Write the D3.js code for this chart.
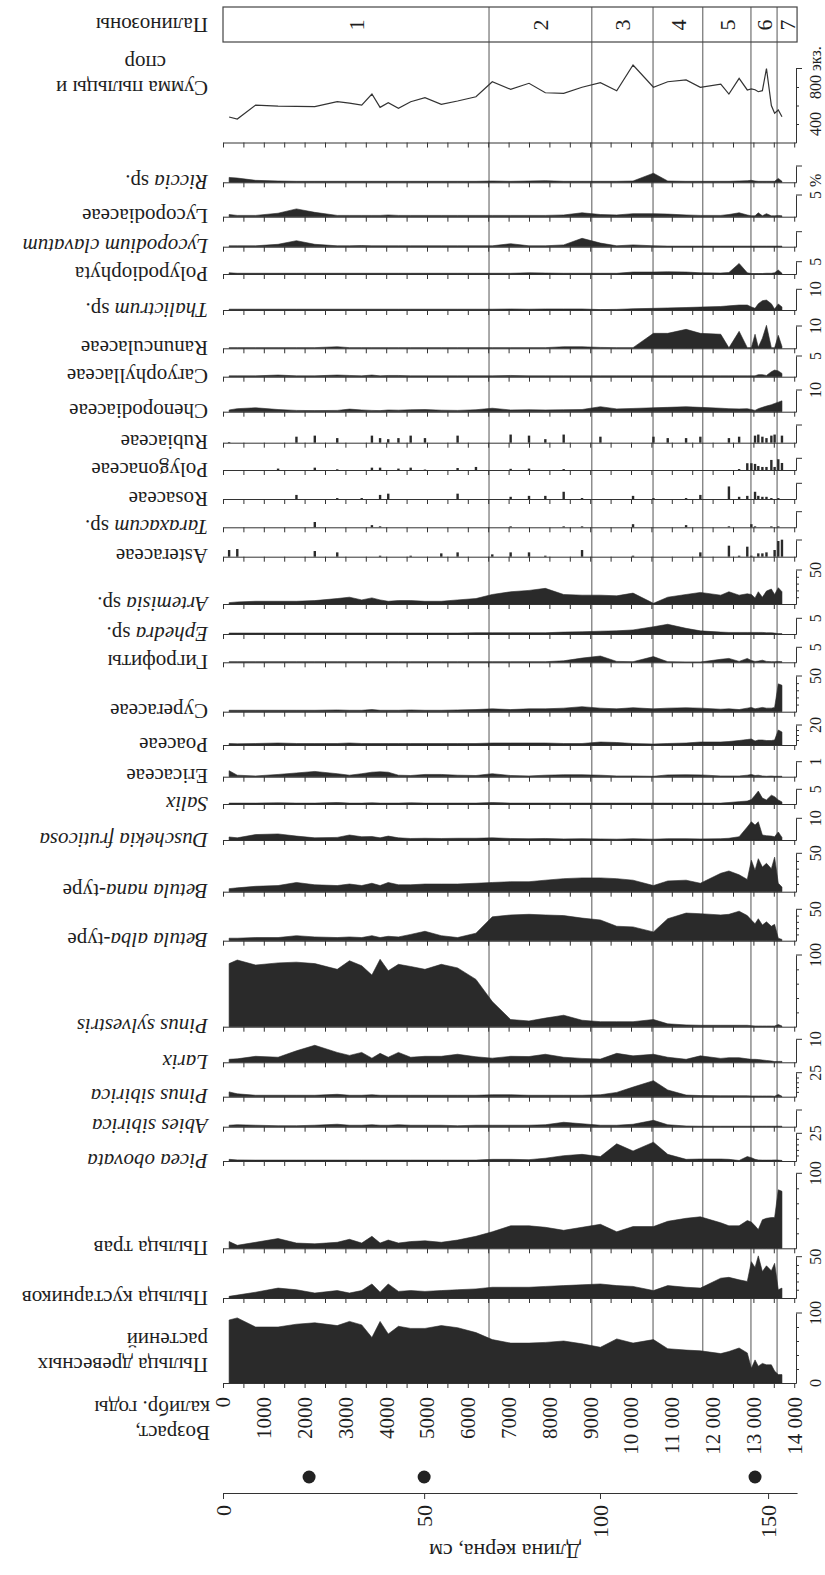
<!DOCTYPE html>
<html>
<head>
<meta charset="utf-8">
<script src="https://cdn.jsdelivr.net/npm/d3@7"></script>
<style>
  body{margin:0;background:#fff;}
  text{font-family:"Liberation Serif","Times New Roman",serif;fill:#1e1e1e;}
</style>
</head>
<body>
<svg id="diagram" width="825" height="1575"></svg>
<script>
// возраст образцов, калибр. лет
var sampleAges=[150,350,800,1350,1800,2250,2800,3100,3400,3650,3850,4050,4300,4600,4950,5350,5750,6200,6600,7050,
  7500,7900,8350,8800,9250,9650,10050,10550,10900,11350,11700,12200,12400,12650,12850,12950,13040,13120,13220,13320,
  13440,13520,13610,13700];

var sumPollen=[476,454,605,594,590,587,641,625,605,724,580,630,570,641,684,613,649,695,857,775,
  840,738,732,797,847,760,1038,797,857,876,797,832,724,894,768,780,770,749,760,1000,600,516,551,479];
var riccia=[1.5,1.3,0.6,0.4,0.3,0.3,0.3,0.3,0.3,0.3,0.3,0.3,0.3,0.3,0.3,0.3,0.3,0.3,0.4,0.3,
  0.4,0.5,0.3,0.3,0.3,0.3,0.4,2.8,0.4,0.3,0.3,0.3,0.3,0.4,0.5,0.6,0.4,0.3,0.3,0.3,0.3,0.3,1.2,0.3];
var lycopodiaceae=[0.5,0.3,0.3,0.8,1.8,1.0,0.3,0.3,0.3,0.3,0.3,0.4,0.3,0.3,0.3,0.3,0.3,0.3,0.3,0.3,
  0.3,0.3,0.4,0.9,0.5,0.4,0.7,0.7,0.6,0.4,0.3,0.3,0.5,0.9,0.4,0.2,0.2,0.9,0.2,0.7,0.2,0.2,0.3,0.2];
var lycopodium=[0.3,0.3,0.3,0.8,2.0,0.8,0.3,0.3,0.4,0.3,0.3,0.3,0.3,0.3,0.3,0.3,0.3,0.3,0.3,1.0,
  0.3,0.3,0.6,2.8,1.2,0.3,0.6,0.3,0.2,0.2,0.2,0.2,0.2,0.2,0.2,0.2,0.2,0.2,0.2,0.2,0.2,0.2,0.2,0.2];
var polypodiophyta=[0.5,0.3,0.3,0.3,0.3,0.3,0.3,0.3,0.3,0.3,0.3,0.3,0.3,0.3,0.3,0.3,0.3,0.3,0.3,0.3,
  0.5,0.4,0.3,0.3,0.3,0.3,0.8,0.8,0.9,0.8,0.5,0.4,0.6,4.3,0.5,0.2,0.2,0.2,0.2,0.3,0.3,0.5,1.6,0.3];
var thalictrum=[0.4,0.4,0.4,0.4,0.4,0.4,0.4,0.4,0.4,0.4,0.4,0.4,0.4,0.4,0.4,0.4,0.4,0.4,0.4,0.5,
  0.4,0.5,0.5,0.5,0.2,0.3,0.6,0.8,1.0,1.2,1.4,1.7,2.0,2.4,2.4,1.5,0.8,3.0,4.5,4.8,3.0,0.5,2.9,1.5];
var ranunculaceae=[0.3,0.3,0.3,0.3,0.3,0.3,0.7,0.3,0.3,0.3,0.3,0.3,0.3,0.3,0.3,0.3,0.3,0.3,0.3,0.3,
  0.3,0.3,0.7,0.7,0.4,0.3,0.3,6.7,6.7,8.5,6.7,6.3,0.2,7.6,0.3,0.3,6.3,0.5,4.5,10.3,0.3,0.2,5.8,0.8];
var caryophyllaceae=[0.2,0.2,0.2,0.4,0.2,0.2,0.4,0.3,0.2,0.4,0.2,0.3,0.3,0.2,0.2,0.2,0.2,0.2,0.2,0.3,
  0.2,0.2,0.2,0.2,0.2,0.2,0.2,0.2,0.2,0.2,0.2,0.2,0.2,0.2,0.2,0.2,0.2,0.5,0.5,0.3,1.2,1.6,1.4,0.8];
var chenopodiaceae=[0.8,1.4,1.8,1.0,0.6,0.5,0.6,1.2,0.8,0.6,0.5,0.8,0.7,0.9,1.0,0.7,0.6,0.9,1.6,0.8,
  0.9,0.8,0.9,1.0,2.3,1.3,1.5,1.8,2.0,2.3,2.0,1.6,1.4,1.3,1.4,1.0,0.6,1.4,2.0,2.6,3.2,3.8,4.4,5.0];
var rubiaceae=[0.2,0,0,0,1.7,2,1.3,0,0,2,1.3,1,1.3,2,1.3,0,2,0,0,2.3,
  2,1,2.3,0,1.7,0,0,1.7,1.3,1.3,1.7,0,1.3,1.7,0,0,2,2.3,1.7,1.3,2,2.3,0,2];
var polygonaceae=[0,0,0,0.6,0,1,0.3,0,0,1,1,0,0.6,1,0.2,0,0.85,1.3,0,0.5,
  0.6,0,0.4,0,0,0,0,0,0,0,0,0,0,0.4,2.9,2.9,2.6,1.7,1.3,1.3,4.3,1.3,4.6,3];
var rosaceae=[0,0,0,0,1.3,0,0.3,0,0.3,0,1.3,1.7,0,0,0,0,1.7,0,0,0.7,
  1,1,2.3,0.3,0,0,1,0.3,0,0.3,1.3,0,4,0.7,1,0,2.3,1,0.7,0.7,0.3,0,0.3,0];
var taraxacum=[0,0,0,0,0,1.7,0,0,0,0.7,0.3,0,0,0,0,0,0,0,0,0.3,
  0,0,0.3,0.3,0,0,1,0,0,0.7,0,0,0.3,0,0,1,0.3,0,0,0,0.3,0,0.3,0];
var asteraceae=[2,2.3,0,0,0,1.7,1.3,0,0,0,0.3,0,0,0.3,0,1,1.3,0,0.7,1.3,
  1.3,0.3,0,2,0,0,0.3,0,0,0,1.3,0,3.3,0.3,3.0,0.3,0,1,1,1.3,0,2,4.7,5.1];
var artemisia=[2,3,4,4,4,5,8,10,6,9,6,4,5,5,4,4,6,8,14,18,
  20,23,14,13,13,12,16,1,10,14,17,13,18,13,15,14,9,18,10,19,22,14,24,18];
var ephedra=[0.3,0.3,0.3,0.3,0.3,0.3,0.3,0.3,0.3,0.3,0.3,0.3,0.3,0.3,0.3,0.3,0.3,0.4,0.4,0.4,
  0.4,0.4,0.6,0.7,0.9,1.0,1.3,2.3,3.1,1.8,1.0,0.6,0.5,0.5,0.5,0.5,0.5,0.5,0.5,0.4,0.4,0.3,0.1,0.1];
var gigrofity=[0.2,0.2,0.2,0.2,0.2,0.2,0.2,0.2,0.2,0.2,0.2,0.2,0.2,0.2,0.2,0.2,0.2,0.2,0.2,0.2,
  0.2,0.2,0.5,1.4,2.1,0.3,0.2,1.9,0.2,0.1,0.1,1.0,1.3,0.3,1.3,0.6,0.3,0.4,0.7,0.3,0.2,0.2,0.3,0.2];
var cyperaceae=[2,2,2,2,2,2,2.5,2,2,3,2,2,2,2.5,2,2,2.5,3,4,3,
  4,4,5,7,5,4,5.6,4,5,5.5,5,3.5,4,3,5,6,4,5,6,5,5,6,39,37];
var poaceae=[1.5,1.2,1.5,2,1.5,1.5,1.5,2,1.5,1.5,1.5,1.5,1.5,1.5,1.5,1.5,1.5,1.5,2,2,
  2,2,1.5,1.5,3,2.5,1.5,1,1.5,2,3,3,3.5,4.5,5.5,6,4,5,5,4.5,4.5,5,15,13];
var ericaceae=[0.4,0.1,0.05,0.15,0.25,0.35,0.2,0.1,0.2,0.3,0.33,0.3,0.1,0.08,0.15,0.15,0.1,0.08,0.2,0.08,
  0.05,0.1,0.13,0.13,0.1,0.05,0.05,0.03,0.12,0.13,0.12,0.05,0.05,0.05,0.1,0.15,0.08,0.1,0.05,0.03,0.05,0.03,0.03,0.03];
var salix=[0.3,0.3,0.3,0.4,0.3,0.3,0.5,0.3,0.3,0.4,0.3,0.3,0.3,0.4,0.3,0.3,0.3,0.3,0.5,0.3,
  0.3,0.3,0.3,0.3,0.3,0.3,0.3,0.3,0.3,0.3,0.3,0.3,0.5,0.8,1.0,1.5,3.0,4.4,2.0,1.4,3.0,2.5,1.4,0.7];
var duschekia=[1.4,1.0,2.5,2.8,1.8,1.0,1.2,2.3,1.5,1.6,1.0,1.8,1.0,0.7,0.8,0.7,0.8,0.8,1.0,0.7,
  0.6,0.7,0.5,0.6,0.5,0.4,0.6,0.4,0.6,0.6,0.5,0.6,0.8,1.5,6.0,8.4,6.9,8.4,2.3,2.0,1.8,1.5,3.7,1.2];
var betulaNana=[4,5,7,8,12,9,8,10,8,11,8,12,9,9,10,10,10,11,12,13,
  13,15,17,18,18,17,15,8,14,15,11,24,27,22,16,41,28,43,32,37,30,45,11,6];
var betulaAlba=[4,4,5,5,8,6,5,6,5,8,5,7,6,10,15,8,5,12,38,41,
  42,41,40,36,33,23,22,14,35,44,43,41,42,47,40,33,27,35,25,30,23,26,4,2];
var pinusSylvestris=[88,93,86,89,90,88,80,92,85,72,94,78,87,84,80,87,82,66,35,10,
  8,12,16,9,7,7,7,10,4,2.5,2,2,2,2,2,1.5,1,1,1,1,1,1,3,1];
var larix=[1.3,1.5,2.6,2.2,5.0,7.4,4.3,3.0,4.3,1.8,3.9,2.2,4.3,2.2,2.6,2.6,3.5,2.4,1.8,2.6,
  2.5,3.5,2.2,1.7,1.4,3.9,2.8,3.5,2.2,1.3,2.8,1.7,2.0,2.0,1.5,1.3,1.3,1.2,1.0,0.8,0.6,0.3,0.4,0.4];
var pinusSibirica=[5,3,1.5,1.5,1.5,1.5,2.5,1.5,1.5,2,1.5,1.5,1.5,1.5,1.5,1.5,1.5,1.5,2,2,
  1.5,1.5,1.5,1.5,2,4.5,10,16.7,7,1.7,1.2,1,1,1,1,0.8,0.8,0.8,0.8,0.8,0.8,0.5,2.4,0.5];
var abies=[1.5,2,1.5,1,1,1.5,2.5,1.5,1.5,2,1.5,1.5,2,1.5,1.5,1.5,1,1.5,1.5,1.5,
  1.5,2,4.5,3,1.5,1.5,2.5,6.5,2,0.7,0.5,0.5,0.5,0.5,0.5,0.5,0.5,0.5,0.5,0.5,0.5,0.5,0.5,0.5];
var picea=[1.5,1,0.8,0.8,0.8,0.8,0.8,0.8,0.8,0.8,0.8,0.8,0.8,0.8,0.8,0.8,0.8,0.8,1.5,1.5,
  1.2,2.5,4.8,6,4,15.5,9,17,6,1.5,1.8,1.8,1.5,0.5,4,3,1.5,1,0.8,0.8,0.8,1,0.8,0.5];
var herbs=[9,4,8,13,7,6,8,12,7,16,7,11,7,9,10,8,11,16,22,30,
  30,28,24,28,32,22,29,29,36,40,42,34,30,30,37,35,30,25,38,40,41,41,78,76];
var shrubs=[2,3.5,7,12,10,6,9,6,9,17,7,17,8,9,8,9,10,11,13,13,
  13,14,15,16,17,15,14,9,15,13,12,24,25,22,20,44,37,51,32,39,33,42,10,12];
var trees=[90,93,80,80,84,86,82,88,83,65,88,70,81,78,78,82,79,72,62,57,
  57,58,60,56,51,63,57,62,49,47,46,42,45,50,43,21,33,24,28,26,26,17,12,12];

// названия строк (* - курсив, | - перенос)
var taxa=['Сумма пыльцы и|спор','*Riccia* sp.','Lycopodiaceae','*Lycopodium clavatum*','Polypodiophyta',
  '*Thalictrum* sp.','Ranunculaceae','Caryophyllaceae','Chenopodiaceae','Rubiaceae','Polygonaceae','Rosaceae',
  '*Taraxacum* sp.','Asteraceae','*Artemisia* sp.','*Ephedra* sp.','Гигрофиты','Cyperaceae','Poaceae','Ericaceae',
  '*Salix*','*Duschekia fruticosa*','*Betula nana*-type','*Betula alba*-type','*Pinus sylvestris*','*Larix*',
  '*Pinus sibirica*','*Abies sibirica*','*Picea obovata*','Пыльца трав','Пыльца кустарников','Пыльца древесных|растений'];
var series=[sumPollen,riccia,lycopodiaceae,lycopodium,polypodiophyta,thalictrum,ranunculaceae,caryophyllaceae,
  chenopodiaceae,rubiaceae,polygonaceae,rosaceae,taraxacum,asteraceae,artemisia,ephedra,gigrofity,cyperaceae,
  poaceae,ericaceae,salix,duschekia,betulaNana,betulaAlba,pinusSylvestris,larix,pinusSibirica,abies,picea,
  herbs,shrubs,trees];
var kinds=['line','area','area','area','area','area','area','area','area','bar','bar','bar','bar','bar',
  'area','area','area','area','area','area','area','area','area','area','area','area','area','area','area',
  'area','area','area'];
var scaleMin=[200,0,0,0,0,0,0,0,0,0,0,0,0,0,0,0,0,0,0,0,0,0,0,0,0,0,0,0,0,0,0,0];
var scaleMax=[1000,5,5,5,5,10,10,5,10,5,5,5,5,5,50,5,5,50,20,1,5,10,50,50,100,10,25,17,25,100,50,100];
var scaleStep=[200,0,0,0,0,0,0,0,0,0,0,0,0,0,10,0,0,10,5,0,0,0,10,10,20,0,5,0,5,20,10,20];
var scaleText=['','','5 %','','5','10','10','5','10','','','','','','50','5','5','50','20','1','5','10',
  '50','50','100','10','25','','25','100','50','100'];

var zoneBounds=[6520,9040,10540,11760,12940,13580];
var zoneNames=['1','2','3','4','5','6','7'];
var ageTicks=d3.range(0,14001,1000);
var datingAges=[2110,4930,13040];
var depthModel=[0,50,100,150,158];
var ageModel=[0,4930,9240,13360,14070];
var depthTicks=[0,50,100,150];

// положение строк на листе
var rowBase=[142.5,182.3,216.7,246.7,274,310,348.3,376.7,411.7,442.7,470,499,527.3,556.7,604,634,662.3,711.7,
  745,776.7,804,840,891.7,940.7,1026.7,1062.3,1096.7,1126.7,1161,1248.3,1298,1383];
var rowTop=[68.5,166,195,231.7,261.7,289.3,326,356,390,425,458.3,483.3,511.7,540,570,618.3,647.3,676,
  725,761.7,789.3,818.3,853.3,909.3,955,1039.3,1072.7,1110,1133.3,1173.3,1256.7,1313];

window.onload=function(){
    var svg=d3.select('#diagram');
    var ink='#2a2a2a';
    var gx=796;
    var x=d3.scaleLinear().domain([0,14044]).range([223,gx]);
    var xEnd=x(14070);

    // label with rotation by 180
    function upsideLabel(txt,px,py,size,anchor){
        var t=svg.append('text')
            .attr('transform','translate('+px+','+py+') rotate(180)')
            .attr('font-size',size)
            .attr('text-anchor',anchor||'start');
        txt.split('|').forEach(function(line,li){
            var first=true;
            line.split('*').forEach(function(seg,si){
                if(!seg) return;
                var ts=t.append('tspan').text(seg);
                if(si%2==1) ts.attr('font-style','italic');
                if(first){
                    ts.attr('x',(li>0 && txt.indexOf('спор')>0)?42:0)
                      .attr('dy',li==0?'0.35em':25);
                    first=false;
                }
            });
        });
        return t;
    }
    function upLabel(txt,px,py,size,anchor){
        return svg.append('text')
            .attr('transform','translate('+px+','+py+') rotate(-90)')
            .attr('font-size',size)
            .attr('text-anchor',anchor||'middle')
            .attr('dy','0.35em')
            .text(txt);
    }

    // палинозоны
    svg.append('g').selectAll('line')
        .data(zoneBounds)
        .enter()
        .append('line')
        .attr('x1',function(d){return x(d);})
        .attr('x2',function(d){return x(d);})
        .attr('y1',7)
        .attr('y2',rowBase[rowBase.length-1])
        .attr('stroke','#555')
        .attr('stroke-width',1);

    svg.append('rect')
        .attr('x',x(0)).attr('y',7)
        .attr('width',xEnd-x(0)).attr('height',35)
        .attr('fill','none').attr('stroke','#444').attr('stroke-width',1.2);

    var edges=[0].concat(zoneBounds).concat([14070]);
    zoneNames.forEach(function(z,i){
        upLabel(z,(x(edges[i])+x(edges[i+1]))/2,25,22);
    });
    upsideLabel('Палинозоны',208,25,21);

    // строки диаграммы
    series.forEach(function(vals,i){
        var base=rowBase[i], top=rowTop[i];
        var y=d3.scaleLinear().domain([scaleMin[i],scaleMax[i]]).range([base,top]);

        if(kinds[i]=='area'){
            var area=d3.area()
                .x(function(d,j){return x(sampleAges[j]);})
                .y0(base)
                .y1(function(d){return y(d);});
            svg.append('path')
                .attr('d',area(vals))
                .attr('fill',ink)
                .attr('stroke',ink)
                .attr('stroke-width',0.6);
        }else if(kinds[i]=='bar'){
            svg.append('g').selectAll('rect')
                .data(vals)
                .enter()
                .append('rect')
                .attr('x',function(d,j){return x(sampleAges[j])-1.2;})
                .attr('width',2.4)
                .attr('y',function(d){return y(d);})
                .attr('height',function(d){return base-y(d);})
                .attr('fill',ink);
        }else{
            var line=d3.line()
                .x(function(d,j){return x(sampleAges[j]);})
                .y(function(d){return y(d);});
            svg.append('path')
                .attr('d',line(vals))
                .attr('fill','none')
                .attr('stroke','#333')
                .attr('stroke-width',1.2);
        }

        // базовая линия с засечками каждые 500 лет
        svg.append('g')
            .attr('transform','translate(0,'+base+')')
            .attr('color','#333')
            .call(d3.axisBottom(x).tickValues(d3.range(0,14001,500)).tickSize(5).tickSizeOuter(0).tickFormat(''));

        // шкала справа
        var step=scaleStep[i];
        var minor=step?d3.range(scaleMin[i]+step,scaleMax[i]-step/2,step):[];
        svg.append('g')
            .attr('transform','translate('+gx+',0)')
            .attr('color','#333')
            .call(d3.axisRight(y).tickValues(minor).tickSize(3).tickSizeOuter(0).tickFormat(''));
        svg.append('line')
            .attr('x1',gx).attr('x2',gx+6)
            .attr('y1',top).attr('y2',top)
            .attr('stroke','#333');

        if(scaleText[i]=='5 %'){
            upLabel(scaleText[i],815,top+4,16,'start');
        }else if(scaleText[i]){
            upLabel(scaleText[i],815,top,16);
        }

        var ly=base;
        if(i==0) ly=88;
        if(i==series.length-1) ly=base-18;
        upsideLabel(taxa[i],208,ly,21);
    });

    // подписи шкалы суммы
    var ySum=d3.scaleLinear().domain([scaleMin[0],scaleMax[0]]).range([rowBase[0],rowTop[0]]);
    upLabel('400',815,ySum(400),16);
    upLabel('800 экз.',815,ySum(800)+12,16,'start');
    upLabel('0',815,rowBase[rowBase.length-1],16);

    // ось возраста
    var ageY=rowBase[rowBase.length-1]+14;
    ageTicks.forEach(function(a){
        var s=a>=10000?Math.floor(a/1000)+' 000':String(a);
        upLabel(s,x(a),ageY,21,'end');
    });
    var ageTitle=upsideLabel('Возраст,|калибр. годы',210,1433,21);

    // датировки
    svg.append('g').selectAll('circle')
        .data(datingAges)
        .enter()
        .append('circle')
        .attr('cx',function(d){return x(d);})
        .attr('cy',1477)
        .attr('r',6.5)
        .attr('fill','#222');

    // ось глубины
    var depthX=d3.scaleLinear()
        .domain(depthModel)
        .range(ageModel.map(function(a){return x(a);}));
    svg.append('g')
        .attr('transform','translate(0,1493)')
        .attr('color','#333')
        .call(d3.axisBottom(depthX).tickValues(depthTicks).tickSize(6).tickSizeOuter(0).tickFormat(''));
    depthTicks.forEach(function(d){
        upLabel(String(d),depthX(d),1505,22,'end');
    });
    upsideLabel('Длина керна, см',505,1552,22,'middle');
}
</script>
</body>
</html>
